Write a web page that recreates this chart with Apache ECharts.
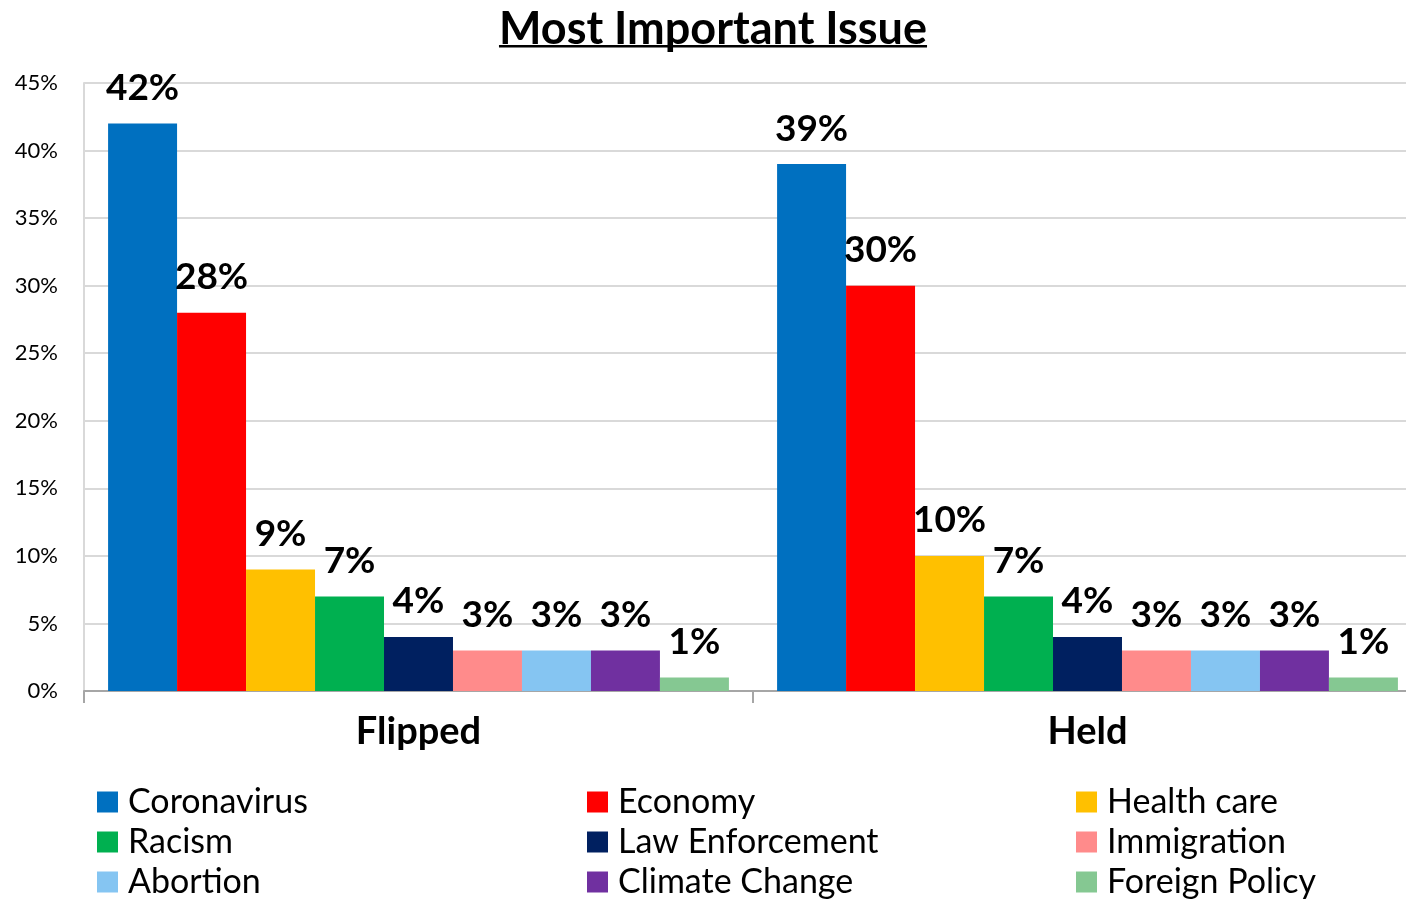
<!DOCTYPE html>
<html><head><meta charset="utf-8">
<script src="https://cdn.jsdelivr.net/npm/echarts@6/dist/echarts.min.js"></script>
<style>html,body{margin:0;padding:0;background:#fff;overflow:hidden}#c{width:1422px;height:899px}</style>
</head><body><div id="c"></div>
<script>
const categories = ['Flipped', 'Held'];
const issues = ['Coronavirus','Economy','Health care','Racism','Law Enforcement','Immigration','Abortion','Climate Change','Foreign Policy'];
const colors = ['#0070C0','#FF0000','#FFC000','#00B050','#002060','#FF8B8B','#85C5F2','#7030A0','#85C892'];
const coronavirus = [42, 39];
const economy = [28, 30];
const healthCare = [9, 10];
const racism = [7, 7];
const lawEnforcement = [4, 4];
const immigration = [3, 3];
const abortion = [3, 3];
const climateChange = [3, 3];
const foreignPolicy = [1, 1];
const seriesValues = [coronavirus, economy, healthCare, racism, lawEnforcement, immigration, abortion, climateChange, foreignPolicy];
const yTicks = {min: 0, max: 45, interval: 5};

const FONT = 'Lato';
const TITLE = 'Most Important Issue';
const TITLE_SIZE = 45;
const TITLE_CENTER = 713;
const ctx = document.createElement('canvas').getContext('2d');
ctx.font = 'bold ' + TITLE_SIZE + 'px ' + FONT;
const tw = ctx.measureText(TITLE).width;

const chart = echarts.init(document.getElementById('c'));
const legendCols = [[0,3,6],[1,4,7],[2,5,8]];
const legendLeft = [97, 587, 1076];
chart.setOption({
  animation: false,
  textStyle: {fontFamily: FONT},
  title: {
    text: TITLE, left: TITLE_CENTER - tw / 2, top: 2, padding: [5, 0, 5, 0],
    textStyle: {fontFamily: FONT, fontSize: TITLE_SIZE, fontWeight: 'bold', color: '#000'}
  },
  graphic: [{type: 'rect', shape: {x: TITLE_CENTER - tw / 2, y: 45, width: tw, height: 2.5}, style: {fill: '#000'}}],
  legend: legendCols.map((col, i) => ({
    orient: 'vertical', left: legendLeft[i], top: 785, height: 200, padding: 0,
    itemWidth: 21, itemHeight: 21, itemGap: 6,
    icon: 'rect',
    data: col.map(k => issues[k]),
    textStyle: {fontFamily: FONT, fontSize: 34, color: '#000', padding: [0, 0, 0, 5]}
  })),
  grid: {left: 84, right: 0, top: 83, bottom: 208, containLabel: false},
  xAxis: {
    type: 'category', data: categories,
    axisLine: {lineStyle: {color: '#A6A6A6', width: 2}},
    axisTick: {show: true, length: 12, lineStyle: {color: '#A6A6A6', width: 2}},
    axisLabel: {fontFamily: FONT, fontSize: 38, fontWeight: 'bold', color: '#000', margin: 22}
  },
  yAxis: {
    type: 'value', min: yTicks.min, max: yTicks.max, interval: yTicks.interval,
    axisLabel: {formatter: '{value}%', fontFamily: FONT, fontSize: 22, color: '#000', margin: 26},
    axisLine: {show: true, lineStyle: {color: '#D9D9D9', width: 2}},
    splitLine: {lineStyle: {color: '#D9D9D9', width: 2}}
  },
  series: issues.map((name, i) => ({
    name, type: 'bar', data: seriesValues[i],
    itemStyle: {color: colors[i]},
    barGap: '0%', barCategoryGap: '7.2%',
    label: {show: true, position: 'top', distance: 17, formatter: '{c}%',
      fontFamily: FONT, fontSize: 37, fontWeight: 'bold', color: '#000'}
  }))
});
</script></body></html>
